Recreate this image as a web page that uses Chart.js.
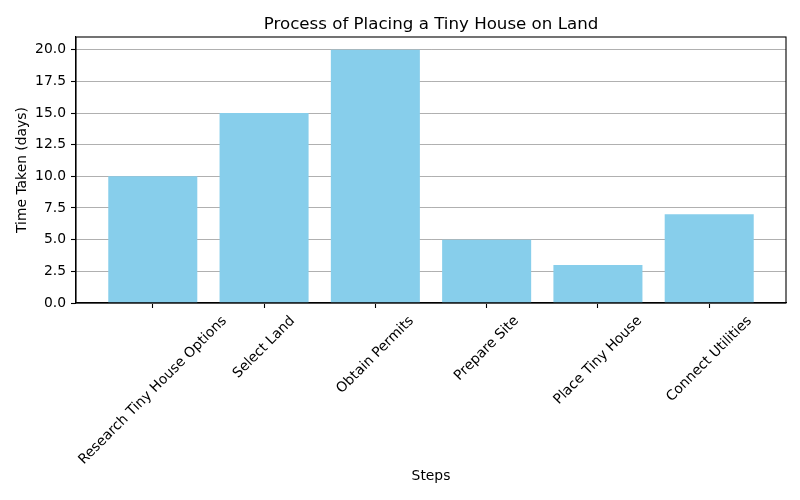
<!DOCTYPE html>
<html>
<head>
<meta charset="utf-8">
<script src="https://cdn.jsdelivr.net/npm/chart.js@4"></script>
<style>
html,body{margin:0;padding:0;background:#fff;}
#wrap{width:800px;height:500px;}
</style>
</head>
<body>
<div id="wrap"><canvas id="c" width="800" height="500"></canvas></div>
<script>
const categories = ["Research Tiny House Options", "Select Land", "Obtain Permits", "Prepare Site", "Place Tiny House", "Connect Utilities"];
const timeTaken = [10, 15, 20, 5, 3, 7];
const yTicks = [0, 2.5, 5, 7.5, 10, 12.5, 15, 17.5, 20];
const titleText = "Process of Placing a Tiny House on Land";
const xTitle = "Steps";
const yTitle = "Time Taken (days)";

const FONT = "'DejaVu Sans', sans-serif";
const FS = 13.89;

const overlay = {
  id: 'overlay',
  afterDatasetsDraw(chart) {
    const ctx = chart.ctx, a = chart.chartArea;
    ctx.save();
    ctx.strokeStyle = '#000';
    ctx.lineWidth = 1.1;
    ctx.strokeRect(a.left, a.top, a.right - a.left, a.bottom - a.top);
    ctx.restore();
  },
  afterDraw(chart) {
    const ctx = chart.ctx, a = chart.chartArea, xs = chart.scales.x;
    ctx.save();
    ctx.fillStyle = '#000';
    // title
    ctx.font = `16.67px ${FONT}`;
    ctx.textAlign = 'center';
    ctx.textBaseline = 'alphabetic';
    ctx.fillText(titleText, (a.left + a.right) / 2, 29);
    // x tick labels, rotated 45, centered on tick
    ctx.font = `${FS}px ${FONT}`;
    const h = 16.2;
    categories.forEach((lab, i) => {
      const x = xs.getPixelForValue(i);
      const w = ctx.measureText(lab).width;
      const bb = (w + h) * Math.SQRT1_2;
      const top = a.bottom + 10;
      ctx.save();
      ctx.translate(x, top + bb / 2);
      ctx.rotate(-Math.PI / 4);
      ctx.textAlign = 'center';
      ctx.textBaseline = 'middle';
      ctx.fillText(lab, 0, 0);
      ctx.restore();
    });
    // x title
    ctx.textAlign = 'center';
    ctx.textBaseline = 'top';
    ctx.fillText(xTitle, (a.left + a.right) / 2, 469);
    // y title
    ctx.save();
    ctx.translate(22, (a.top + a.bottom) / 2);
    ctx.rotate(-Math.PI / 2);
    ctx.textAlign = 'center';
    ctx.textBaseline = 'middle';
    ctx.fillText(yTitle, 0, 0);
    ctx.restore();
    ctx.restore();
  }
};

new Chart(document.getElementById('c'), {
  type: 'bar',
  data: {
    datasets: [{
      data: categories.map((c, i) => ({ x: i, y: timeTaken[i] })),
      backgroundColor: '#87CEEB',
      borderWidth: 0,
      barPercentage: 0.8,
      categoryPercentage: 1.0
    }]
  },
  options: {
    responsive: false,
    animation: false,
    devicePixelRatio: 1,
    layout: { padding: { top: 37, right: 14, left: 0, bottom: 0 } },
    plugins: { legend: { display: false }, tooltip: { enabled: false }, title: { display: false } },
    scales: {
      x: {
        type: 'linear',
        offset: false,
        min: -0.69,
        max: 5.69,
        afterBuildTicks(scale) { scale.ticks = categories.map((c, i) => ({ value: i })); },
        afterFit(scale) { scale.height = 197; },
        ticks: { display: false },
        grid: { offset: false, drawOnChartArea: false, drawTicks: true, tickLength: 5, tickColor: '#000', tickWidth: 1.1 },
        border: { display: true, color: '#000', width: 1.1 }
      },
      y: {
        min: 0,
        max: 21,
        afterBuildTicks(scale) { scale.ticks = yTicks.map(v => ({ value: v })); },
        afterFit(scale) { scale.width = 76; },
        ticks: {
          color: '#000',
          font: { family: FONT, size: FS },
          padding: 5,
          callback: v => Number(v).toFixed(1)
        },
        grid: { color: '#b0b0b0', lineWidth: 1, drawTicks: true, tickLength: 5, tickColor: '#000', tickWidth: 1.1 },
        border: { display: true, color: '#000', width: 1.1 }
      }
    }
  },
  plugins: [overlay]
});
</script>
</body>
</html>
